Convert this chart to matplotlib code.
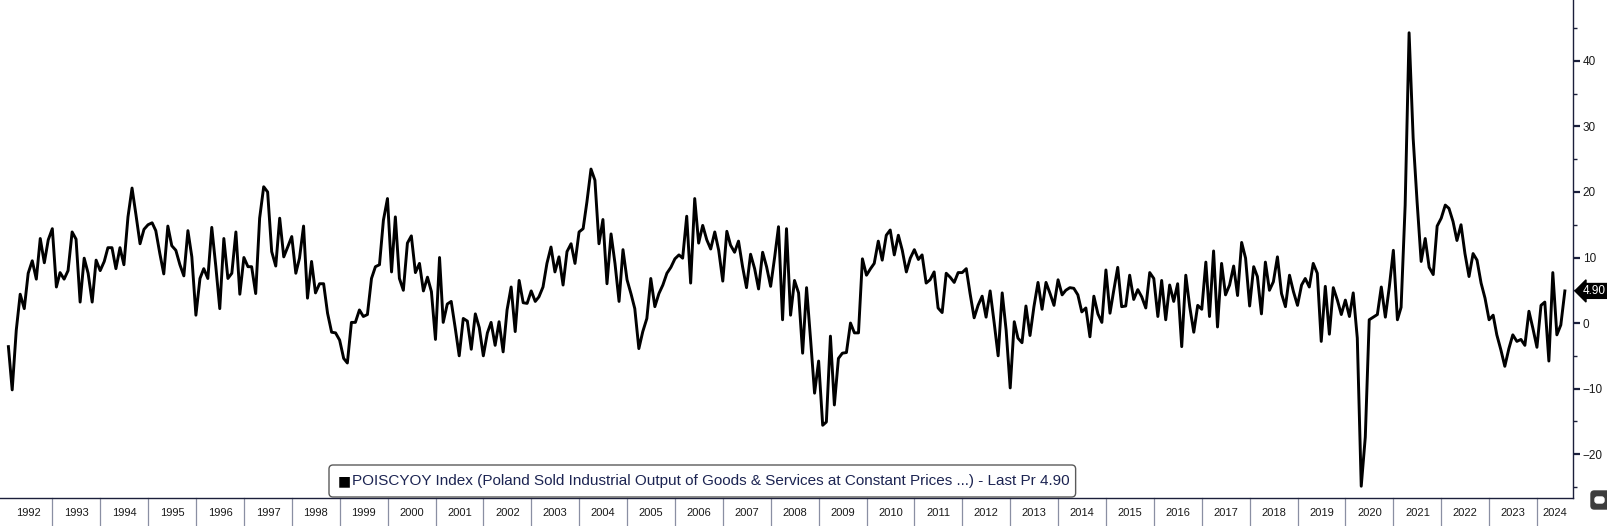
import matplotlib
matplotlib.use("Agg")
import matplotlib.pyplot as plt
import matplotlib.transforms as mtransforms
from matplotlib.patches import FancyBboxPatch
from matplotlib.ticker import MultipleLocator, FixedLocator
from matplotlib import font_manager
import pandas as pd

# ---------------- data (monthly y/y %, Jan 1992 .. Jul 2024) ----------------
values_1992_1995 = [
    -3.6, -10.2, -1.1, 4.4, 2.2, 7.6, 9.5, 6.7, 12.9, 9.2, 12.7, 14.4,
    5.5, 7.7, 6.7, 8.0, 13.9, 12.8, 3.2, 9.9, 7.6, 3.2, 9.6, 8.0,
    9.4, 11.5, 11.5, 8.3, 11.5, 8.9, 16.2, 20.6, 16.5, 12.1, 14.3, 15.0,
    15.3, 14.1, 10.6, 7.5, 14.8, 11.8, 11.1, 8.9, 7.2, 14.1, 10.1, 1.2,
]
values_1996_1999 = [
    6.8, 8.3, 6.8, 14.6, 8.6, 2.2, 12.9, 6.8, 7.6, 13.9, 4.4, 10.0,
    8.6, 8.6, 4.5, 16.0, 20.8, 20.0, 10.9, 8.7, 16.0, 10.1, 11.6, 13.2,
    7.6, 9.9, 14.8, 3.8, 9.4, 4.6, 6.0, 6.0, 1.5, -1.4, -1.5, -2.6,
    -5.4, -6.1, 0.1, 0.1, 2.0, 1.0, 1.3, 6.8, 8.6, 8.9, 15.7, 19.0,
]
values_2000_2004 = [
    7.8, 16.2, 6.8, 5.0, 12.2, 13.3, 7.7, 9.1, 4.9, 7.0, 4.8, -2.5,
    10.0, 0.1, 2.9, 3.3, -0.8, -5.0, 0.7, 0.3, -4.0, 1.4, -0.7, -5.0,
    -1.5, 0.1, -3.4, 0.2, -4.4, 2.0, 5.5, -1.3, 6.5, 3.1, 3.0, 4.9,
    3.3, 4.0, 5.5, 9.1, 11.6, 7.8, 10.1, 5.8, 10.9, 12.1, 9.1, 13.9,
    14.4, 18.5, 23.5, 21.8, 12.1, 15.8, 6.0, 13.6, 9.1, 3.3, 11.2, 6.6,
]
values_2005_2009 = [
    4.4, 2.2, -3.9, -1.3, 0.7, 6.8, 2.5, 4.5, 5.8, 7.6, 8.5, 9.8,
    10.4, 9.9, 16.3, 6.1, 19.0, 12.2, 14.9, 12.7, 11.3, 13.9, 11.1, 6.4,
    14.0, 11.9, 10.8, 12.5, 8.6, 5.4, 10.5, 8.3, 5.2, 10.8, 8.6, 5.6,
    10.1, 14.7, 0.5, 14.4, 1.2, 6.5, 4.6, -4.6, 5.4, -2.6, -10.7, -5.8,
    -15.6, -15.1, -2.0, -12.5, -5.4, -4.6, -4.5, 0.0, -1.5, -1.5, 9.8, 7.3,
]
values_2010_2014 = [
    8.3, 9.1, 12.5, 9.6, 13.4, 14.2, 10.4, 13.4, 11.1, 7.8, 9.9, 11.2,
    9.7, 10.4, 6.1, 6.6, 7.8, 2.3, 1.6, 7.6, 7.0, 6.2, 7.7, 7.7,
    8.3, 4.5, 0.8, 2.7, 4.1, 0.9, 4.9, 0.0, -5.0, 4.6, -1.1, -9.9,
    0.2, -2.3, -3.0, 2.6, -1.9, 2.5, 6.2, 2.1, 6.2, 4.5, 2.7, 6.6,
    4.3, 5.0, 5.4, 5.3, 4.3, 1.7, 2.3, -2.1, 4.1, 1.4, 0.1, 8.1,
]
values_2015_2019 = [
    1.5, 4.9, 8.5, 2.5, 2.6, 7.3, 3.6, 5.1, 4.0, 2.3, 7.7, 6.8,
    1.0, 6.5, 0.5, 5.8, 3.3, 6.0, -3.6, 7.3, 2.5, -1.4, 2.7, 2.1,
    9.3, 1.0, 11.0, -0.6, 9.1, 4.3, 5.8, 8.7, 4.2, 12.3, 9.9, 2.6,
    8.6, 7.1, 1.4, 9.3, 5.0, 6.3, 10.1, 4.5, 2.5, 7.3, 4.8, 2.7,
    5.8, 6.8, 5.5, 9.1, 7.6, -2.8, 5.6, -1.7, 5.4, 3.5, 1.3, 3.5,
]
values_2020_2024 = [
    1.0, 4.6, -2.3, -24.9, -17.4, 0.5, 0.9, 1.3, 5.5, 0.9, 5.5, 11.1,
    0.5, 2.4, 18.0, 44.3, 28.2, 18.5, 9.4, 12.9, 8.5, 7.4, 14.8, 16.0,
    18.0, 17.5, 15.5, 12.6, 15.0, 10.6, 7.1, 10.6, 9.6, 6.1, 3.8, 0.5,
    1.2, -1.8, -4.1, -6.6, -3.9, -1.8, -2.8, -2.5, -3.4, 1.8, -0.8, -3.7,
    2.7, 3.2, -5.8, 7.7, -1.8, -0.3, 4.9,
]
series_start = "1992-01-31"
years = list(range(1992, 2025))
y_major = [-20, -10, 0, 10, 20, 30, 40, 50]
last_price = 4.90
legend_label = ("POISCYOY Index (Poland Sold Industrial Output of Goods & Services "
                "at Constant Prices ...) - Last Pr 4.90")

yoy = (values_1992_1995 + values_1996_1999 + values_2000_2004 + values_2005_2009
       + values_2010_2014 + values_2015_2019 + values_2020_2024)
dates = pd.date_range(series_start, periods=len(yoy), freq="ME")

# ---------------- style ----------------
avail = {f.name for f in font_manager.fontManager.ttflist}
base_font = "Liberation Sans" if "Liberation Sans" in avail else "DejaVu Sans"
narrow_font = "Liberation Sans Narrow" if "Liberation Sans Narrow" in avail else base_font
plt.rcParams["font.family"] = [base_font, "DejaVu Sans"]

NAVY = "#1b1f3b"
W, H = 1608, 526
fig = plt.figure(figsize=(W / 100, H / 100), dpi=100)
fig.patch.set_facecolor("white")
ax_bottom_px = 28
ax_right_px = 1573
ax = fig.add_axes([0, ax_bottom_px / H, ax_right_px / W, (H - ax_bottom_px) / H])
ax.set_facecolor("white")

ax.plot(dates, yoy, color="black", lw=2.1, solid_joinstyle="round", zorder=3)

ax.set_ylim(-26.7, 49.3)
ax.set_xlim(pd.Timestamp("1991-11-28"), pd.Timestamp("2024-10-01"))

for s in ("top", "left"):
    ax.spines[s].set_visible(False)
for s in ("bottom", "right"):
    ax.spines[s].set_color(NAVY)
    ax.spines[s].set_linewidth(1.0)

# y axis on right
ax.yaxis.tick_right()
ax.yaxis.set_major_locator(FixedLocator(y_major))
ax.yaxis.set_minor_locator(MultipleLocator(5))
ax.tick_params(axis="y", which="major", length=5, width=1.6, color=NAVY,
               labelsize=8.5, pad=2, labelcolor="#1a1a1a")
ax.tick_params(axis="y", which="minor", length=3, width=1.0, color=NAVY)
ax.text(1.0, 50, "      50", transform=mtransforms.blended_transform_factory(ax.transAxes, ax.transData),
        ha="left", va="center", fontsize=8.5, color="#1a1a1a", clip_on=False)

# x axis: year labels between separators
ax.set_xticks([])
sep_frac = ax_bottom_px / (H - ax_bottom_px)
trans = mtransforms.blended_transform_factory(ax.transData, ax.transAxes)
x_left, x_right = ax.get_xlim()
for yr in years:
    start = pd.Timestamp(f"{yr}-01-01")
    end = pd.Timestamp(f"{yr + 1}-01-01")
    if yr > 1992:
        ax.plot([start, start], [0, -sep_frac], transform=trans, color="#8a8fa3",
                lw=0.9, clip_on=False)
    xs = max(matplotlib.dates.date2num(start), x_left)
    xe = min(matplotlib.dates.date2num(end), x_right)
    ax.text((xs + xe) / 2, -0.5 * sep_frac - 0.002, str(yr), transform=trans,
            ha="center", va="center", fontsize=8, color="#1a1a1a", clip_on=False)

# last price tag
ax.annotate(f"{last_price:.2f}", xy=(1.0, last_price),
            xycoords=mtransforms.blended_transform_factory(ax.transAxes, ax.transData),
            xytext=(7.0, 0), textcoords="offset points", ha="left", va="center",
            fontsize=8.5, color="white",
            bbox=dict(boxstyle="larrow,pad=0.12", fc="black", ec="black"),
            annotation_clip=False)

# legend box
fig.canvas.draw()
renderer = fig.canvas.get_renderer()
sq = fig.text(338 / W, 1 - 481 / H, "\u25A0", fontsize=10, color="black",
              ha="left", va="center", family=["DejaVu Sans"])
lab = fig.text(352 / W, 1 - 481 / H, legend_label, fontsize=11, color="#1c2452",
               ha="left", va="center", family=[narrow_font, "DejaVu Sans"])
target_w = 1072 - 352
for _ in range(3):
    bb = lab.get_window_extent(renderer)
    lab.set_fontsize(lab.get_fontsize() * target_w / bb.width)
bb = lab.get_window_extent(renderer)
x0, x1 = 329, bb.x1 + 6
y_top, y_bot = 465, 497
box = FancyBboxPatch((x0 / W, 1 - y_bot / H), (x1 - x0) / W, (y_bot - y_top) / H,
                     boxstyle="round,pad=0,rounding_size=0.0025",
                     transform=fig.transFigure, fc="white", ec="#5a5a5a", lw=1.0,
                     mutation_aspect=W / H, zorder=4)
fig.add_artist(box)
sq.set_zorder(5)
lab.set_zorder(5)

# small icon bottom-right
icon = FancyBboxPatch((1591 / W, 1 - 509 / H), 20 / W, 18 / H,
                      boxstyle="round,pad=0,rounding_size=0.002",
                      transform=fig.transFigure, fc="#3d3d3d", ec="#3d3d3d",
                      mutation_aspect=W / H)
fig.add_artist(icon)
fig.add_artist(FancyBboxPatch((1595 / W, 1 - 503 / H), 9 / W, 6 / H,
                              boxstyle="round,pad=0,rounding_size=0.0015",
                              transform=fig.transFigure, fc="white", ec="white",
                              mutation_aspect=W / H))

fig.savefig("out.png", dpi=100, facecolor="white")
